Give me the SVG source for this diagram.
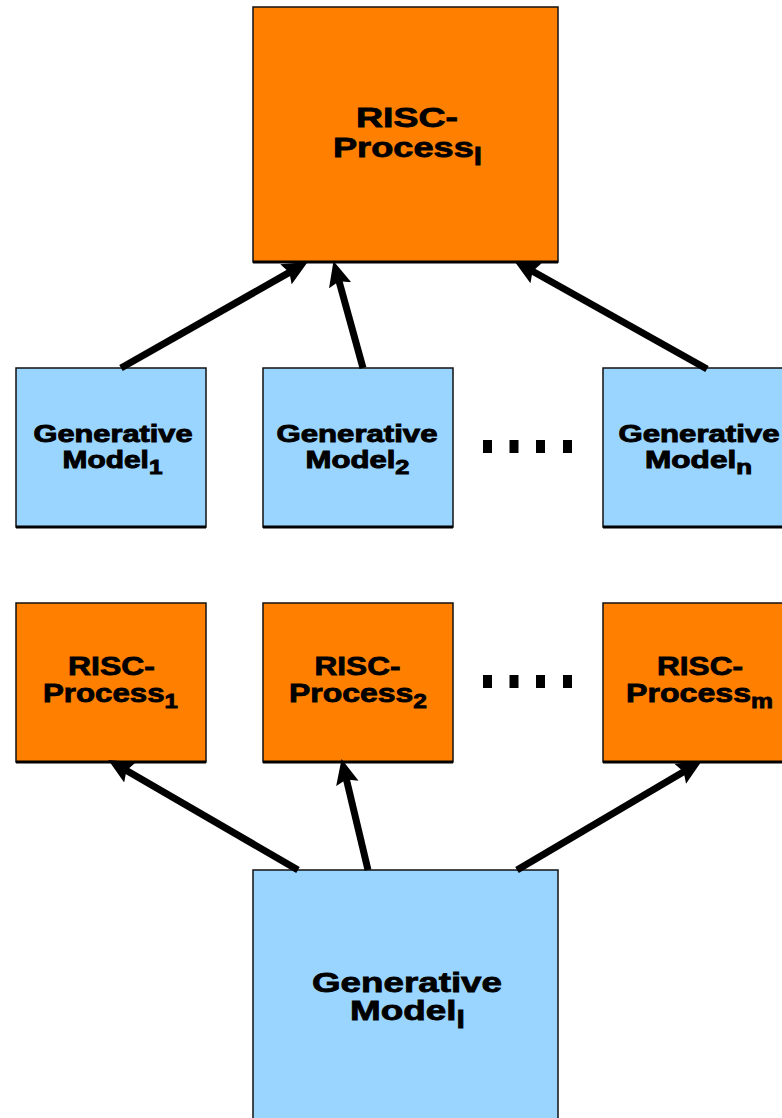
<svg xmlns="http://www.w3.org/2000/svg" width="782" height="1118" viewBox="0 0 782 1118">
<style>
.box{stroke:#111;stroke-width:1.5}
.orange{fill:#FF8000}
.blue{fill:#99D5FF}
.shadow{stroke:#000;stroke-width:3}
.lbl{font-family:"Liberation Sans",Arial,sans-serif;font-weight:bold;fill:#000;stroke:#000;stroke-width:0.8;text-anchor:middle}
.gm{font-size:24.5px;stroke-width:0.95}
.rp{font-size:26px}
.lg{font-size:28px}
.conn line{stroke:#000;stroke-width:7;fill:none}
.dot{fill:#000}
</style>
<defs>
<marker id="ah" markerUnits="userSpaceOnUse" viewBox="0 -12 26 24" refX="5" refY="0" markerWidth="26" markerHeight="24" orient="auto">
<path d="M0,-11.5 L25,0 L0,11.5 L4,0 z" fill="#000"/>
</marker>
</defs>
<rect width="782" height="1118" fill="#fff"/>

<g id="risc-process-l">
<rect class="box orange" x="253" y="7" width="305" height="255"/>
<line class="shadow" x1="253" y1="262" x2="558" y2="262"/>
<text class="lbl lg"><tspan x="407" y="127" textLength="102" lengthAdjust="spacingAndGlyphs">RISC-</tspan><tspan x="407.5" y="157" textLength="149" lengthAdjust="spacingAndGlyphs">Process<tspan font-size="23" dy="8">l</tspan></tspan></text>
</g>

<g id="generative-model-1">
<rect class="box blue" x="16" y="368" width="190" height="159"/>
<line class="shadow" x1="16" y1="527" x2="206" y2="527"/>
<text class="lbl gm"><tspan x="113" y="441.5" textLength="159" lengthAdjust="spacingAndGlyphs">Generative</tspan><tspan x="112.5" y="467.5" textLength="100" lengthAdjust="spacingAndGlyphs">Model<tspan font-size="20" dy="6">1</tspan></tspan></text>
</g>

<g id="generative-model-2">
<rect class="box blue" x="263" y="368" width="190" height="159"/>
<line class="shadow" x1="263" y1="527" x2="453" y2="527"/>
<text class="lbl gm"><tspan x="357" y="441.5" textLength="161" lengthAdjust="spacingAndGlyphs">Generative</tspan><tspan x="357.5" y="467.5" textLength="104" lengthAdjust="spacingAndGlyphs">Model<tspan font-size="20" dy="6">2</tspan></tspan></text>
</g>

<g id="generative-model-n">
<rect class="box blue" x="603" y="368" width="200" height="159"/>
<line class="shadow" x1="603" y1="527" x2="803" y2="527"/>
<text class="lbl gm"><tspan x="699" y="441.5" textLength="161" lengthAdjust="spacingAndGlyphs">Generative</tspan><tspan x="698.5" y="467.5" textLength="107" lengthAdjust="spacingAndGlyphs">Model<tspan font-size="20" dy="6">n</tspan></tspan></text>
</g>

<g id="ellipsis-1">
<rect class="dot" x="483" y="440" width="9" height="13"/>
<rect class="dot" x="509.5" y="440" width="9" height="13"/>
<rect class="dot" x="536" y="440" width="9" height="13"/>
<rect class="dot" x="563" y="440" width="9" height="13"/>
</g>

<g id="risc-process-1">
<rect class="box orange" x="16" y="603" width="190" height="159"/>
<line class="shadow" x1="16" y1="762" x2="206" y2="762"/>
<text class="lbl rp"><tspan x="111.5" y="675" textLength="87" lengthAdjust="spacingAndGlyphs">RISC-</tspan><tspan x="110.5" y="702" textLength="135" lengthAdjust="spacingAndGlyphs">Process<tspan font-size="20" dy="6">1</tspan></tspan></text>
</g>

<g id="risc-process-2">
<rect class="box orange" x="263" y="603" width="190" height="159"/>
<line class="shadow" x1="263" y1="762" x2="453" y2="762"/>
<text class="lbl rp"><tspan x="357.5" y="675" textLength="86" lengthAdjust="spacingAndGlyphs">RISC-</tspan><tspan x="358" y="702" textLength="138" lengthAdjust="spacingAndGlyphs">Process<tspan font-size="20" dy="6">2</tspan></tspan></text>
</g>

<g id="risc-process-m">
<rect class="box orange" x="603" y="603" width="200" height="159"/>
<line class="shadow" x1="603" y1="762" x2="803" y2="762"/>
<text class="lbl rp"><tspan x="700" y="675" textLength="86" lengthAdjust="spacingAndGlyphs">RISC-</tspan><tspan x="699.5" y="702" textLength="147" lengthAdjust="spacingAndGlyphs">Process<tspan font-size="20" dy="6">m</tspan></tspan></text>
</g>

<g id="ellipsis-2">
<rect class="dot" x="483" y="675" width="9" height="13"/>
<rect class="dot" x="509.5" y="675" width="9" height="13"/>
<rect class="dot" x="536" y="675" width="9" height="13"/>
<rect class="dot" x="563" y="675" width="9" height="13"/>
</g>

<g id="generative-model-l">
<rect class="box blue" x="253" y="870" width="305" height="260"/>
<text class="lbl lg"><tspan x="407" y="991.5" textLength="190" lengthAdjust="spacingAndGlyphs">Generative</tspan><tspan x="407.5" y="1020" textLength="115" lengthAdjust="spacingAndGlyphs">Model<tspan font-size="23" dy="8">l</tspan></tspan></text>
</g>

<g id="connectors" class="conn">
<line x1="121" y1="368" x2="290.3" y2="271.9" marker-end="url(#ah)"/>
<line x1="363" y1="368" x2="338.8" y2="280.4" marker-end="url(#ah)"/>
<line x1="707" y1="369" x2="531.7" y2="270.8" marker-end="url(#ah)"/>
<line x1="298" y1="870" x2="125.6" y2="770" marker-end="url(#ah)"/>
<line x1="368" y1="870" x2="346.2" y2="778.5" marker-end="url(#ah)"/>
<line x1="517" y1="870" x2="684.5" y2="771.2" marker-end="url(#ah)"/>
</g>
</svg>
